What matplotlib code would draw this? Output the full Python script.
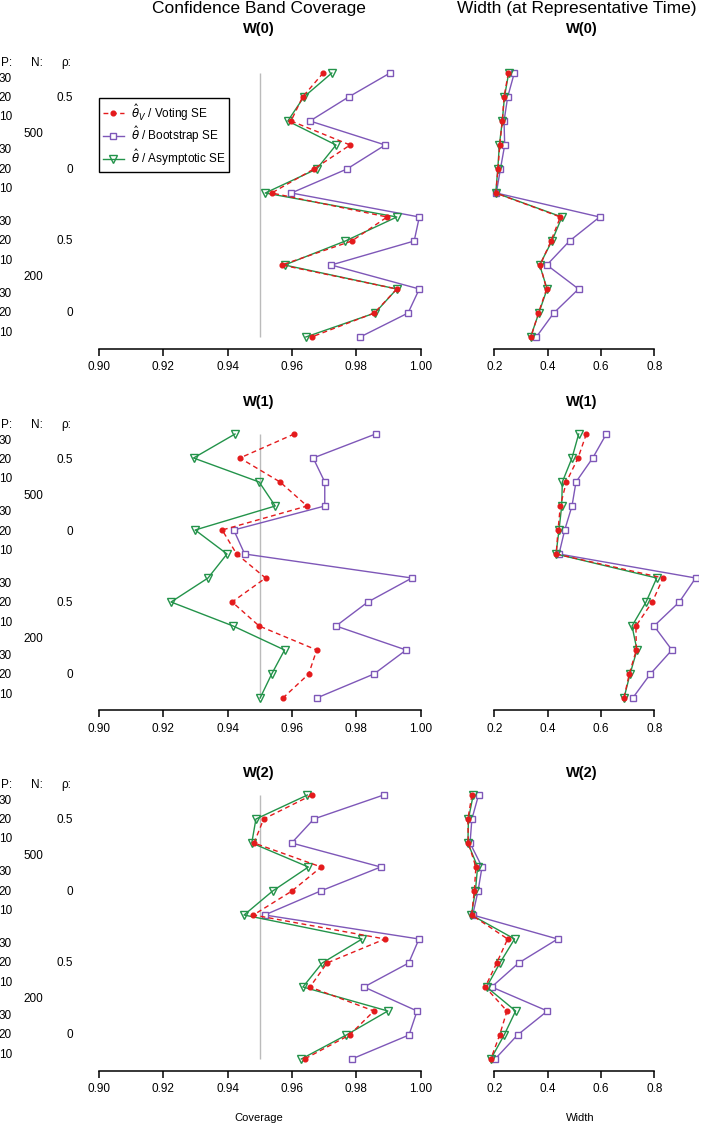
import matplotlib
matplotlib.use("Agg")
import matplotlib.pyplot as plt
from matplotlib.lines import Line2D

plt.rcParams["font.family"] = ["Liberation Sans", "DejaVu Sans"]

# rows top to bottom: N=500 (rho 0.5: P 30,20,10; rho 0: P 30,20,10), then N=200 likewise
p_labels = ["30", "20", "10"] * 4
rho_labels = ["0.5", "0", "0.5", "0"]
n_labels = ["500", "200"]
weights = ["W(0)", "W(1)", "W(2)"]
legend_labels = [r"$\hat{\theta}_V$ / Voting SE", r"$\hat{\theta}$ / Bootstrap SE",
                 r"$\hat{\theta}$ / Asymptotic SE"]

cov_voting_w0 = [0.9697, 0.9633, 0.9597, 0.9781, 0.9668, 0.9537, 0.9896, 0.9786, 0.9568, 0.9926, 0.9856, 0.9661]
cov_boot_w0 = [0.9905, 0.9776, 0.9656, 0.9890, 0.9771, 0.9598, 0.9996, 0.9980, 0.9722, 0.9996, 0.9961, 0.9812]
cov_asym_w0 = [0.9724, 0.9637, 0.9587, 0.9737, 0.9677, 0.9517, 0.9926, 0.9766, 0.9577, 0.9926, 0.9858, 0.9643]

cov_voting_w1 = [0.9607, 0.9438, 0.9563, 0.9647, 0.9383, 0.9428, 0.9518, 0.9414, 0.9498, 0.9677, 0.9652, 0.9572]
cov_boot_w1 = [0.9860, 0.9666, 0.9702, 0.9702, 0.9419, 0.9453, 0.9973, 0.9836, 0.9737, 0.9955, 0.9855, 0.9677]
cov_asym_w1 = [0.9423, 0.9294, 0.9498, 0.9548, 0.9299, 0.9398, 0.9339, 0.9224, 0.9417, 0.9577, 0.9537, 0.9501]

cov_voting_w2 = [0.9662, 0.9512, 0.9482, 0.9691, 0.9600, 0.9480, 0.9889, 0.9709, 0.9656, 0.9855, 0.9779, 0.9639]
cov_boot_w2 = [0.9885, 0.9668, 0.9599, 0.9876, 0.9689, 0.9515, 0.9995, 0.9963, 0.9824, 0.9989, 0.9964, 0.9786]
cov_asym_w2 = [0.9648, 0.9488, 0.9475, 0.9651, 0.9540, 0.9451, 0.9818, 0.9694, 0.9634, 0.9898, 0.9769, 0.9629]

wid_voting_w0 = [0.2525, 0.2365, 0.2300, 0.2203, 0.2140, 0.2055, 0.4475, 0.4125, 0.3720, 0.3960, 0.3655, 0.3375]
wid_boot_w0 = [0.2750, 0.2502, 0.2365, 0.2390, 0.2230, 0.2075, 0.5950, 0.4820, 0.3970, 0.5160, 0.4230, 0.3575]
wid_asym_w0 = [0.2540, 0.2380, 0.2300, 0.2190, 0.2130, 0.2055, 0.4537, 0.4160, 0.3700, 0.3980, 0.3670, 0.3360]

wid_voting_w1 = [0.5450, 0.5140, 0.4700, 0.4475, 0.4390, 0.4320, 0.8327, 0.7925, 0.7310, 0.7325, 0.7060, 0.6863]
wid_boot_w1 = [0.6200, 0.5690, 0.5063, 0.4913, 0.4640, 0.4426, 0.9550, 0.8937, 0.7990, 0.8660, 0.7850, 0.7190]
wid_asym_w1 = [0.5164, 0.4913, 0.4550, 0.4527, 0.4426, 0.4314, 0.8090, 0.7690, 0.7164, 0.7350, 0.7090, 0.6863]

wid_voting_w2 = [0.1160, 0.1010, 0.1025, 0.1310, 0.1250, 0.1150, 0.2500, 0.2090, 0.1660, 0.2475, 0.2200, 0.1870]
wid_boot_w2 = [0.1410, 0.1160, 0.1090, 0.1540, 0.1390, 0.1190, 0.4375, 0.2910, 0.1900, 0.3990, 0.2870, 0.2030]
wid_asym_w2 = [0.1210, 0.1030, 0.1010, 0.1375, 0.1290, 0.1140, 0.2760, 0.2210, 0.1710, 0.2800, 0.2370, 0.1870]

coverage = [(cov_voting_w0, cov_boot_w0, cov_asym_w0),
            (cov_voting_w1, cov_boot_w1, cov_asym_w1),
            (cov_voting_w2, cov_boot_w2, cov_asym_w2)]
widths = [(wid_voting_w0, wid_boot_w0, wid_asym_w0),
          (wid_voting_w1, wid_boot_w1, wid_asym_w1),
          (wid_voting_w2, wid_boot_w2, wid_asym_w2)]

W, H = 701, 1125
RED, PURPLE, GREEN = "#E41A1C", "#7E57B8", "#23934A"
STYLES = [
    dict(color=RED, linestyle=(0, (3.5, 2.5)), marker="o", markersize=3.4, markerfacecolor=RED,
         markeredgecolor=RED, linewidth=1.0, zorder=4),
    dict(color=PURPLE, linestyle="-", marker="s", markersize=4.5, markerfacecolor="white",
         markeredgecolor=PURPLE, markeredgewidth=1.0, linewidth=1.0, zorder=2),
    dict(color=GREEN, linestyle="-", marker="v", markersize=5.6, markerfacecolor="none",
         markeredgecolor=GREEN, markeredgewidth=1.0, linewidth=1.0, zorder=3),
]


def fx(px):
    return px / W


def fy(py):
    return 1 - py / H


def make_axes(fig, left, right, top, bottom):
    return fig.add_axes([fx(left), fy(bottom), (right - left) / W, (bottom - top) / H])


def style_axes(ax, xlim, ticks, labels):
    ax.set_xlim(*xlim)
    ax.set_ylim(11.5, -0.5)
    for side in ["left", "right", "top"]:
        ax.spines[side].set_visible(False)
    ax.spines["bottom"].set_bounds(ticks[0], ticks[-1])
    ax.spines["bottom"].set_linewidth(1.1)
    ax.set_yticks([])
    ax.set_xticks(ticks)
    ax.set_xticklabels(labels)
    ax.tick_params(axis="x", direction="out", length=5, width=1.1, labelsize=8.5, pad=4)
    ax.patch.set_alpha(0)


fig = plt.figure(figsize=(W / 100, H / 100), dpi=100)

rows = list(range(12))
panel_tops = [61, 422, 783]
title_y = [29, 402, 773]
header_y = [63, 425, 785]
cov_lim = (0.9 + (86 - 99) / 3216, 0.9 + (434 - 99) / 3216)
wid_lim = (0.2 + (462 - 494.3) / 266.7, 0.2 + (698 - 494.3) / 266.7)

for k in range(3):
    top = panel_tops[k]
    bottom = top + 288
    ax_c = make_axes(fig, 86, 434, top, bottom)
    ax_w = make_axes(fig, 462, 698, top, bottom)
    ax_c.vlines(0.95, 0, 11, color="#BBBBBB", linewidth=1.0, zorder=1)
    for series, st in zip(coverage[k], STYLES):
        ax_c.plot(series, rows, **st)
    for series, st in zip(widths[k], STYLES):
        ax_w.plot(series, rows, **st)
    style_axes(ax_c, cov_lim, [0.90, 0.92, 0.94, 0.96, 0.98, 1.00],
               ["0.90", "0.92", "0.94", "0.96", "0.98", "1.00"])
    style_axes(ax_w, wid_lim, [0.2, 0.4, 0.6, 0.8], ["0.2", "0.4", "0.6", "0.8"])

    fig.text(fx(259), fy(title_y[k]), weights[k], ha="center", va="center",
             fontsize=10.5, fontweight="bold")
    fig.text(fx(582), fy(title_y[k]), weights[k], ha="center", va="center",
             fontsize=10.5, fontweight="bold")

    # row labels in the left margin
    h = header_y[k]
    fig.text(fx(12), fy(h), "P:", ha="right", va="center", fontsize=8.5)
    fig.text(fx(43), fy(h), "N:", ha="right", va="center", fontsize=8.5)
    fig.text(fx(71), fy(h), "ρ:", ha="right", va="center", fontsize=8.5)
    label_y = []
    for i in range(12):
        label_y.append(h + 15.5 + 19.2 * (i - i // 3) + 33.5 * (i // 3))
    for i, lab in enumerate(p_labels):
        fig.text(fx(12), fy(label_y[i]), lab, ha="right", va="center", fontsize=8.5)
    for g, lab in enumerate(rho_labels):
        fig.text(fx(73), fy(label_y[3 * g + 1]), lab, ha="right", va="center", fontsize=8.5)
    for g, lab in enumerate(n_labels):
        mid = (label_y[6 * g + 2] + label_y[6 * g + 3]) / 2
        fig.text(fx(43), fy(mid), lab, ha="right", va="center", fontsize=8.5)

    if k == 0:
        handles = [Line2D([], [], **st) for st in STYLES]
        ax_c.legend(handles, legend_labels, loc="upper left",
                    bbox_to_anchor=(fx(99), fy(98)), bbox_transform=fig.transFigure,
                    borderaxespad=0, fancybox=False, edgecolor="black", framealpha=1,
                    fontsize=8.5, handlelength=1.8, handletextpad=0.6, labelspacing=0.15,
                    borderpad=0.3, numpoints=1)

fig.text(fx(259), fy(9), "Confidence Band Coverage", ha="center", va="center", fontsize=12.5)
fig.text(fx(577), fy(9), "Width (at Representative Time)", ha="center", va="center", fontsize=12.5)
fig.text(fx(259), fy(1118), "Coverage", ha="center", va="center", fontsize=8)
fig.text(fx(580), fy(1118), "Width", ha="center", va="center", fontsize=8)

fig.savefig("out.png", dpi=100)
